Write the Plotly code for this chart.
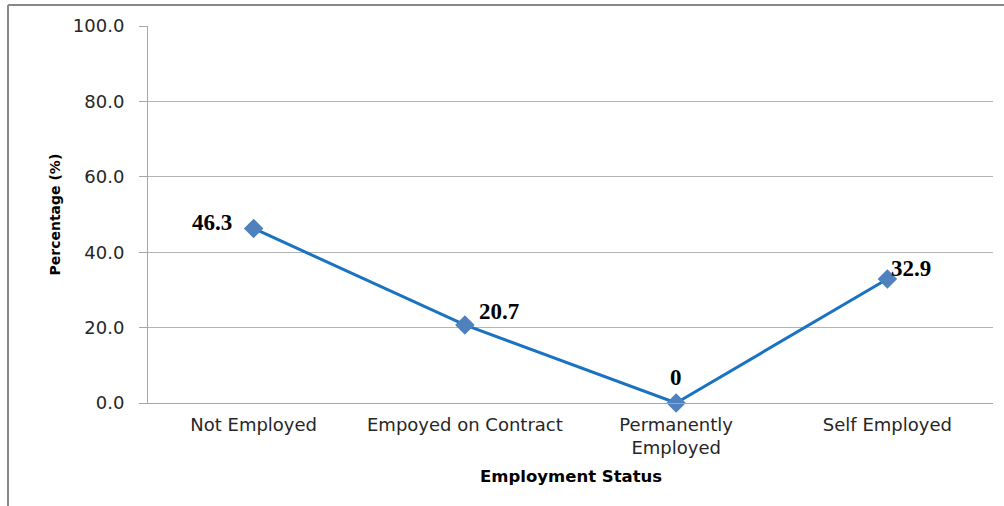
import plotly.graph_objects as go

# Employment status distribution (%)
categories = ["Not Employed", "Empoyed on Contract", "Permanently<br>Employed", "Self Employed"]
percentages = [46.3, 20.7, 0, 32.9]
value_labels = ["46.3", "20.7", "0", "32.9"]
y_ticks = [0, 20, 40, 60, 80, 100]
y_tick_labels = ["0.0", "20.0", "40.0", "60.0", "80.0", "100.0"]

fig = go.Figure()
fig.add_trace(go.Scatter(
    x=categories,
    y=percentages,
    mode="lines+markers",
    line=dict(color="#1A73C2", width=3),
    marker=dict(symbol="diamond", size=15, color="#4F81BD"),
    cliponaxis=False,
    showlegend=False,
    hoverinfo="skip",
))

# value labels next to each point
label_layout = [
    dict(xanchor="right", yanchor="middle", xshift=-20, yshift=6),
    dict(xanchor="left", yanchor="middle", xshift=12, yshift=13),
    dict(xanchor="center", yanchor="middle", xshift=0, yshift=26),
    dict(xanchor="left", yanchor="middle", xshift=2, yshift=10),
]
for cat, val, txt, pos in zip(categories, percentages, value_labels, label_layout):
    fig.add_annotation(
        x=cat, y=val, text=f"<b>{txt}</b>", showarrow=False,
        font=dict(family="Liberation Serif", size=23, color="#000000"),
        **pos,
    )

# axis titles
fig.add_annotation(
    xref="paper", yref="paper", x=(54 - 148) / 845, y=0.5,
    text="<b>Percentage (%)</b>", textangle=-90, showarrow=False,
    font=dict(family="DejaVu Sans", size=14, color="#000000"),
    xanchor="center", yanchor="middle",
)
fig.add_annotation(
    xref="paper", yref="paper", x=0.5, y=(403 - 476) / 377,
    text="<b>Employment Status</b>", showarrow=False,
    font=dict(family="DejaVu Sans", size=16.5, color="#000000"),
    xanchor="center", yanchor="middle",
)

# outer frame (left and top edges)
fig.add_shape(type="line", xref="paper", yref="paper",
              x0=(8 - 148) / 845, x1=(8 - 148) / 845, y0=(403 - 5) / 377, y1=(403 - 510) / 377,
              line=dict(color="#888888", width=2))
fig.add_shape(type="line", xref="paper", yref="paper",
              x0=(8 - 148) / 845, x1=(1010 - 148) / 845, y0=(403 - 5) / 377, y1=(403 - 5) / 377,
              line=dict(color="#888888", width=2))

fig.update_layout(
    width=1004, height=506,
    margin=dict(l=148, r=11, t=26, b=103),
    paper_bgcolor="white", plot_bgcolor="white",
    font=dict(family="DejaVu Sans", size=18, color="#262626"),
)
fig.update_xaxes(
    type="category", range=[-0.5, 3.5],
    showline=True, linecolor="#a6a6a6", linewidth=1,
    showgrid=False, ticks="", tickfont=dict(size=18, color="#262626"),
    ticklabelstandoff=5,
    fixedrange=True,
)
fig.update_yaxes(
    range=[0, 100], tickvals=y_ticks, ticktext=y_tick_labels,
    showline=True, linecolor="#a6a6a6", linewidth=1,
    showgrid=True, gridcolor="#b4b4b4", gridwidth=1,
    ticks="outside", ticklen=8, tickcolor="#a6a6a6",
    tickfont=dict(size=18, color="#262626"), zeroline=False,
    ticklabelstandoff=11,
    fixedrange=True,
)

fig.write_html("out.html")
